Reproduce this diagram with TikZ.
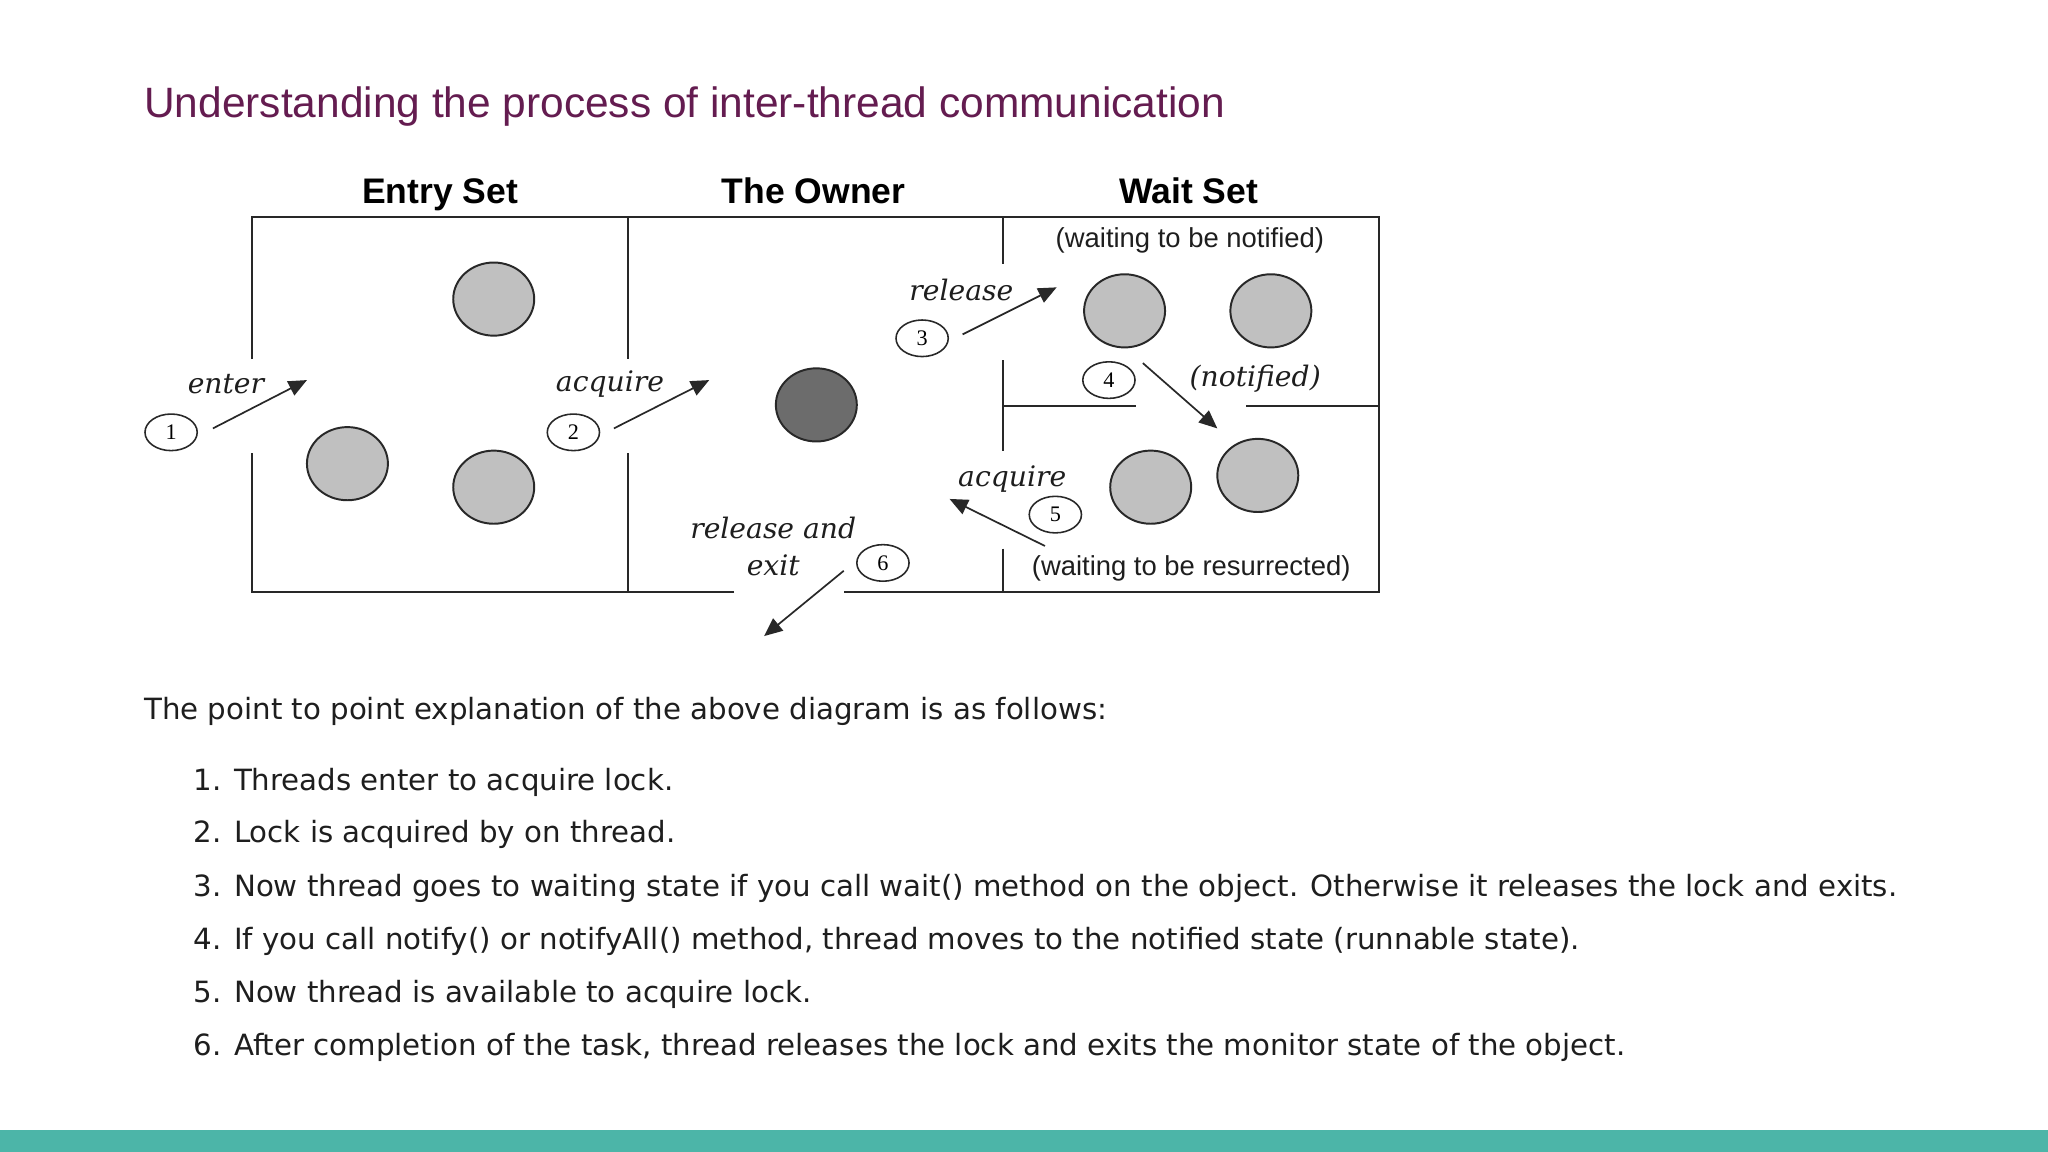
\documentclass[tikz,border=0pt]{standalone}
\usepackage{fontspec}
\setmainfont{Liberation Sans}
\newfontfamily\arialf{Liberation Sans}
\newfontfamily\labf{DejaVu Serif}
\newfontfamily\verdf{DejaVu Sans}
\newfontfamily\numf{Liberation Serif}
\usetikzlibrary{arrows.meta,shapes.geometric}
\definecolor{titlecol}{RGB}{100,28,80}
\definecolor{barcol}{RGB}{76,181,168}
\definecolor{linecol}{RGB}{40,40,40}
\definecolor{thrfill}{RGB}{192,192,192}
\definecolor{ownfill}{RGB}{108,108,108}
\definecolor{txtcol}{RGB}{30,30,30}
\begin{document}
\begin{tikzpicture}[x=0.5pt,y=-0.5pt,
  wall/.style={draw=linecol,line width=0.9pt},
  thread/.style={ellipse,draw=linecol,line width=0.75pt,fill=thrfill,minimum width=31pt,minimum height=28pt,inner sep=0pt},
  owner/.style={thread,fill=ownfill},
  numlab/.style={ellipse,draw=linecol,line width=0.6pt,minimum width=20pt,minimum height=14pt,inner sep=0pt,font=\numf\fontsize{8.5}{10}\selectfont},
  arrlab/.style={font=\labf\itshape\fontsize{10.8}{13}\selectfont,inner sep=0pt,text=txtcol},
  head/.style={font=\arialf\bfseries\fontsize{13.6}{16}\selectfont,inner sep=0pt,anchor=base},
  small/.style={font=\arialf\fontsize{10.5}{12}\selectfont,inner sep=0pt,text=txtcol},
  arr/.style={draw=linecol,line width=0.65pt,-{Triangle[length=7pt,width=6pt]}},
  item/.style={font=\verdf\fontsize{11.2}{13}\selectfont,inner sep=0pt,anchor=west,text=txtcol}
]
\useasboundingbox (0,0) rectangle (1568,882);
\fill[white] (0,0) rectangle (1568,882);
\fill[barcol] (0,865) rectangle (1568,882);

% title
\node[anchor=base west,font=\arialf\fontsize{16.25}{19}\selectfont,text=titlecol,inner sep=0pt] (title) at (110,90) {Understanding the process of inter-thread communication};

% headings
\node[head] (hentry) at (337,156) {Entry Set};
\node[head] (howner) at (623,156) {The Owner};
\node[head] (hwait) at (910,156) {Wait Set};

% walls
\draw[wall] (193,275) -- (193,166) -- (1056,166) -- (1056,453) -- (646,453);
\draw[wall] (562,453) -- (193,453) -- (193,347);
\draw[wall] (481,166) -- (481,275);
\draw[wall] (481,347) -- (481,453);
\draw[wall] (768,166) -- (768,202);
\draw[wall] (768,276) -- (768,345);
\draw[wall] (768,420) -- (768,453);
\draw[wall] (768,311) -- (870,311);
\draw[wall] (954,311) -- (1056,311);

% threads
\node[thread] (e1) at (378,229) {};
\node[thread] (e2) at (266,355) {};
\node[thread] (e3) at (378,373) {};
\node[owner] (own) at (625,310) {};
\node[thread] (w1) at (861,238) {};
\node[thread] (w2) at (973,238) {};
\node[thread] (w3) at (881,373) {};
\node[thread] (w4) at (963,364) {};

% small texts
\node[small] (tnot) at (911,184) {(waiting to be notified)};
\node[small] (tres) at (912,435) {(waiting to be resurrected)};

% number labels
\node[numlab] (n1) at (131,331) {1};
\node[numlab] (n2) at (439,331) {2};
\node[numlab] (n3) at (706,259) {3};
\node[numlab] (n4) at (849,291) {4};
\node[numlab] (n5) at (808,394) {5};
\node[numlab] (n6) at (676,431) {6};

% arrow labels
\node[arrlab] (lenter) at (173,294) {enter};
\node[arrlab] (lacq1) at (467,294) {acquire};
\node[arrlab] (lrel) at (736,222) {release};
\node[arrlab] (lnot) at (961,290) {(notified)};
\node[arrlab] (lacq2) at (775,367) {acquire};
\node[arrlab] (lrelx) at (592,404) {release and};
\node[arrlab] (lexit) at (592,433) {exit};

% arrows
\coordinate (s1) at (163,328); \coordinate (t1) at (235,291);
\coordinate (s2) at (470,328); \coordinate (t2) at (543,291);
\coordinate (s3) at (737,256); \coordinate (t3) at (809,220);
\coordinate (s4) at (875,278); \coordinate (t4) at (932,328);
\coordinate (s5) at (800,418); \coordinate (t5) at (727,382);
\coordinate (s6) at (646,437); \coordinate (t6) at (585,487);
\draw[arr] (s1) -- (t1);
\draw[arr] (s2) -- (t2);
\draw[arr] (s3) -- (t3);
\draw[arr] (s4) -- (t4);
\draw[arr] (s5) -- (t5);
\draw[arr] (s6) -- (t6);

% explanation
\node[item] (intro) at (110,545) {The point to point explanation of the above diagram is as follows:};
\node[item] (i1) at (148,599) {1. Threads enter to acquire lock.};
\node[item] (i2) at (148,639) {2. Lock is acquired by on thread.};
\node[item] (i3) at (148,680) {3. Now thread goes to waiting state if you call wait() method on the object. Otherwise it releases the lock and exits.};
\node[item] (i4) at (148,721) {4. If you call notify() or notifyAll() method, thread moves to the notified state (runnable state).};
\node[item] (i5) at (148,761) {5. Now thread is available to acquire lock.};
\node[item] (i6) at (148,802) {6. After completion of the task, thread releases the lock and exits the monitor state of the object.};
\end{tikzpicture}
\end{document}
